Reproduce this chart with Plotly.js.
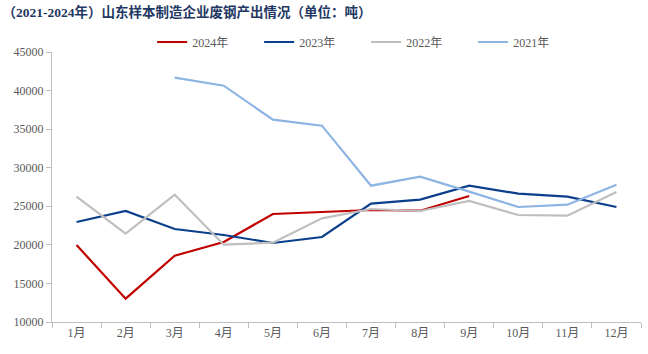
<!DOCTYPE html>
<html>
<head>
<meta charset="utf-8">
<script src="https://cdn.plot.ly/plotly-3.0.1.min.js"></script>
<style>html,body{margin:0;padding:0;background:#fff;}#chart{width:648px;height:354px;}</style>
</head>
<body>
<div id="chart"></div>
<script>
const months = ["1月","2月","3月","4月","5月","6月","7月","8月","9月","10月","11月","12月"];
const y2024 = [19980, 13020, 18600, 20370, 24000, 24300, 24520, 24430, 26330, null, null, null];
const y2023 = [22960, 24390, 22060, 21280, 20240, 21020, 25340, 25860, 27670, 26640, 26250, 24910];
const y2022 = [26250, 21450, 26500, 20020, 20280, 23440, 24650, 24390, 25690, 23870, 23780, 26850];
const y2021 = [null, null, 41670, 40630, 36230, 35450, 27670, 28840, 26900, 24910, 25210, 27800];
const seriesNames = ["2024年", "2023年", "2022年", "2021年"];
const colors = ["#C00000", "#0B3F8C", "#BFBFBF", "#8DB4E2"];
const titleText = "（2021-2024年）山东样本制造企业废钢产出情况（单位：吨）";

const data = [y2024, y2023, y2022, y2021].map((ys, i) => ({
  type: "scatter", mode: "lines", x: months, y: ys, name: seriesNames[i],
  line: {color: colors[i], width: 2.2}, connectgaps: false, hoverinfo: "skip"
}));

const serif = "'Liberation Serif', 'Noto Sans CJK SC', serif";
const layout = {
  width: 648, height: 354,
  margin: {l: 52, r: 7, t: 52, b: 32},
  paper_bgcolor: "#fff", plot_bgcolor: "#fff",
  title: {text: "<b>" + titleText + "</b>", x: 0.004, xanchor: "left", y: 0.965, yanchor: "middle",
          font: {family: "'Liberation Serif', 'Noto Sans CJK SC', serif", size: 13.5, color: "#1F3864"}},
  showlegend: true,
  legend: {orientation: "h", x: 0.17, xanchor: "left", y: 1.037, yanchor: "middle",
           font: {family: serif, size: 12, color: "#595959"}, entrywidth: 62, entrywidthmode: "pixels",
           bgcolor: "rgba(0,0,0,0)", tracegroupgap: 0},
  xaxis: {type: "category", range: [-0.5, 11.5], tickson: "boundaries", ticks: "outside", ticklen: 5,
          tickcolor: "#BFBFBF", showline: true, linecolor: "#BFBFBF", linewidth: 1, showgrid: false,
          zeroline: false, tickfont: {family: serif, size: 12, color: "#595959"}, fixedrange: true},
  yaxis: {range: [10000, 45000], dtick: 5000, tick0: 10000, ticks: "outside", ticklen: 5,
          tickcolor: "#BFBFBF", showline: true, linecolor: "#BFBFBF", linewidth: 1, showgrid: false,
          zeroline: false, tickfont: {family: serif, size: 12, color: "#595959"}, fixedrange: true,
          tickformat: "d"}
};
Plotly.newPlot("chart", data, layout, {displayModeBar: false, staticPlot: true});
</script>
</body>
</html>
